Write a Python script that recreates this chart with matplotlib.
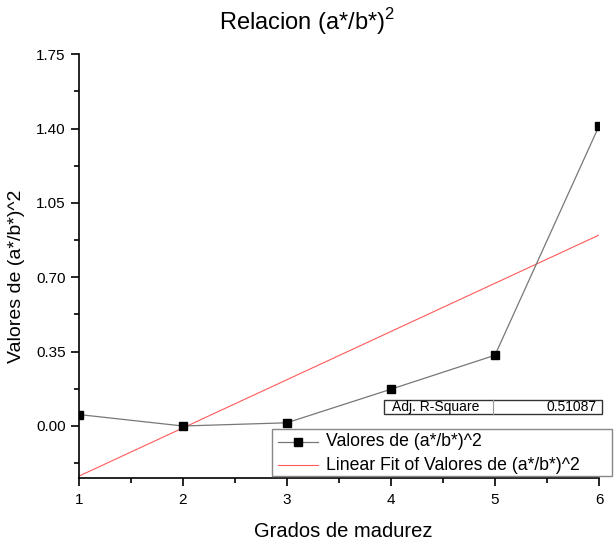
import numpy as np
import matplotlib
matplotlib.use("Agg")
import matplotlib.pyplot as plt
from matplotlib.ticker import AutoMinorLocator
from matplotlib.lines import Line2D

plt.rcParams['font.family'] = ['Liberation Sans', 'DejaVu Sans']
plt.rcParams['mathtext.fontset'] = 'custom'
plt.rcParams['mathtext.rm'] = 'Liberation Sans'

grados = [1, 2, 3, 4, 5, 6]
valores = [0.054, 0.0, 0.015, 0.173, 0.333, 1.412]
y_ticks = [0.00, 0.35, 0.70, 1.05, 1.40, 1.75]
adj_r2_text = "0.51087"

x = np.array(grados, dtype=float)
y = np.array(valores)
slope, intercept = np.polyfit(x, y, 1)

W, H = 615.0, 542.0
def fx(px): return px / W
def fy(py): return 1 - py / H

fig = plt.figure(figsize=(6.15, 5.42), dpi=100)
ax = fig.add_axes([0.128, 0.118, 0.846, 0.782])

ax.plot(x, y, color='#777777', lw=0.9, marker='s', markersize=6,
        markerfacecolor='black', markeredgecolor='black', zorder=3)
xf = np.array([1.0, 6.0])
ax.plot(xf, slope * xf + intercept, color='#ff5a5a', lw=0.8, zorder=2)

ax.set_xlim(1, 6)
ax.set_ylim(-0.245, 1.75)
ax.set_yticks(y_ticks)
ax.set_yticklabels([f"{v:.2f}" for v in y_ticks])
ax.set_xticks(grados)
ax.xaxis.set_minor_locator(AutoMinorLocator(2))
ax.yaxis.set_minor_locator(AutoMinorLocator(2))
ax.spines['top'].set_visible(False)
ax.spines['right'].set_visible(False)
for s in ('left', 'bottom'):
    ax.spines[s].set_linewidth(1.2)
ax.tick_params(which='major', direction='out', length=6, width=1.2, labelsize=11)
ax.tick_params(axis='x', which='major', pad=5)
ax.tick_params(which='minor', direction='out', length=3.5, width=1.2)

fig.text(fx(307), fy(30), "Relacion (a*/b*)$^2$", fontsize=17, ha='center', va='baseline')
fig.text(fx(343), fy(537), "Grados de madurez", fontsize=14.5, ha='center', va='baseline')
fig.text(fx(17), fy(276), "Valores de (a*/b*)^2", fontsize=14, ha='center', va='center',
         rotation=90)

# Adj R-Square table
tx0, tx1, tdiv, ty0, ty1 = 384, 602, 493, 399.5, 414
fig.patches.append(plt.Rectangle((fx(tx0), fy(ty1)), fx(tx1) - fx(tx0), fy(ty0) - fy(ty1),
                                 transform=fig.transFigure, facecolor='white',
                                 edgecolor='#333333', lw=1.0, zorder=5))
fig.lines.append(Line2D([fx(tdiv), fx(tdiv)], [fy(ty1), fy(ty0)], transform=fig.transFigure,
                        color='#999999', lw=0.8, zorder=6))
fig.text(fx(392), fy((ty0 + ty1) / 2), "Adj. R-Square", fontsize=10, va='center', ha='left', zorder=7)
fig.text(fx(597), fy((ty0 + ty1) / 2), adj_r2_text, fontsize=10, va='center', ha='right', zorder=7)

# Legend box
lx0, lx1, ly0, ly1 = 272, 612, 429, 476
fig.patches.append(plt.Rectangle((fx(lx0), fy(ly1)), fx(lx1) - fx(lx0), fy(ly0) - fy(ly1),
                                 transform=fig.transFigure, facecolor='white',
                                 edgecolor='#888888', lw=1.0, zorder=5))
r1 = 441.5
r2 = 465
fig.lines.append(Line2D([fx(278), fx(318)], [fy(r1), fy(r1)], transform=fig.transFigure,
                        color='#777777', lw=0.9, zorder=6))
fig.lines.append(Line2D([fx(298)], [fy(r1)], transform=fig.transFigure, marker='s',
                        markersize=6, color='black', lw=0, zorder=7))
fig.lines.append(Line2D([fx(278), fx(318)], [fy(r2), fy(r2)], transform=fig.transFigure,
                        color='#ff5a5a', lw=0.8, zorder=6))
fig.text(fx(326), fy(r1), "Valores de (a*/b*)^2", fontsize=12.7, va='center', ha='left', zorder=7)
fig.text(fx(326), fy(r2), "Linear Fit of Valores de (a*/b*)^2", fontsize=12.7, va='center', ha='left', zorder=7)

fig.savefig("out.png", dpi=100)
